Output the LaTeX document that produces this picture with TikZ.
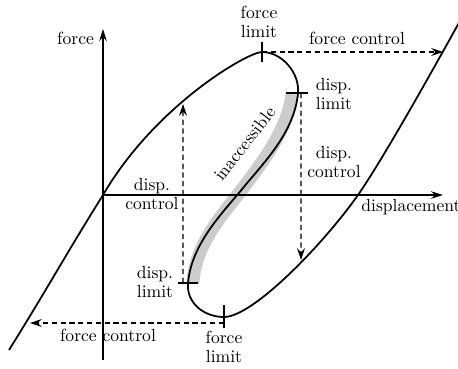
\documentclass[tikz,border=0pt]{standalone}
\usepackage{tikz}
\usetikzlibrary{arrows.meta,calc}
\tikzset{
  axis/.style={-{Stealth[length=2.4mm,width=1.5mm]}, line width=0.8pt},
  loop/.style={line width=1pt},
  band/.style={line width=0.26cm, draw=gray!40},
  tick/.style={line width=1.7pt},
  ctrl/.style={-{Stealth[length=2.4mm,width=1.6mm,inset=0.9mm]}, semithick, dash pattern=on 3pt off 2pt},
  lbl/.style={align=center, inner sep=1pt, font=\fontsize{10}{11}\selectfont}
}
\begin{document}
\begin{tikzpicture}
  \useasboundingbox (-2.06,-3.46) rectangle (7.10,3.90);
  % points on the loop
  \coordinate (A)  at (-1.88,-3.10);
  \coordinate (O)  at (0,0);
  \coordinate (T1) at (3.18,2.86);
  \coordinate (D1) at (3.90,2.04);
  \coordinate (M)  at (2.80,0.14);
  \coordinate (D2) at (1.70,-1.76);
  \coordinate (T2) at (2.42,-2.44);
  \coordinate (X)  at (5.10,0);
  \coordinate (E)  at (7.25,3.68);
  % ends of the control arrows
  \coordinate (fcR) at (6.80,2.86);
  \coordinate (fcL) at (-1.46,-2.56);
  \coordinate (dcR) at (3.96,-1.30);
  \coordinate (dcL) at (1.60,1.82);
  % inaccessible branch
  \draw[band] (3.78,2.02) .. controls (3.70,1.30) and (3.16,0.62) .. (2.80,0.14)
              .. controls (2.44,-0.34) and (1.84,-0.96) .. (1.80,-1.76);
  % axes
  \draw[axis] (0,-3.30) -- (0,3.32);
  \draw[axis] (O) -- (6.80,0);
  \node[lbl, anchor=east] (lforce) at (-0.14,3.14) {force};
  \node[lbl, anchor=west, inner sep=0pt] (ldisp) at (5.16,-0.24) {displacement};
  % response curve
  \draw[loop] (A) to[out=58,in=238] (O)
    .. controls (1.05,1.80) and (2.90,2.86) .. (T1)
    .. controls (3.58,2.86) and (3.935,2.44) .. (D1)
    .. controls (3.83,1.24) and (3.18,0.61) .. (M)
    .. controls (2.42,-0.33) and (1.77,-0.96) .. (D2)
    .. controls (1.665,-2.16) and (2.02,-2.44) .. (T2)
    .. controls (3.0,-2.44) and (4.41,-0.98) .. (X)
    .. controls (5.67,0.82) and (6.86,2.98) .. (E);
  % limits
  \draw[tick] ([yshift=-0.2cm]T1) -- ([yshift=0.2cm]T1);
  \draw[tick] ([xshift=-0.24cm]D1) -- ([xshift=0.2cm]D1);
  \draw[tick] ([xshift=-0.2cm]D2) -- ([xshift=0.2cm]D2);
  \draw[tick] ([yshift=-0.22cm]T2) -- ([yshift=0.24cm]T2);
  % control paths
  \draw[ctrl] (T1) -- (fcR);
  \draw[ctrl] ([yshift=-0.12cm]T2) -- (fcL);
  \draw[ctrl] ([xshift=0.06cm]D1) -- (dcR);
  \draw[ctrl] ([xshift=-0.1cm]D2) -- (dcL);
  % labels
  \node[lbl] (lfl1) at (3.12,3.46) {force\\limit};
  \node[lbl] (lfc1) at (5.08,3.13) {force control};
  \node[lbl] (ldl1) at (4.62,2.02) {disp.\\limit};
  \node[lbl] (ldc1) at (4.62,0.66) {disp.\\control};
  \node[lbl] (ldc2) at (0.98,0.02) {disp.\\control};
  \node[lbl] (ldl2) at (1.04,-1.74) {disp.\\limit};
  \node[lbl] (lfc2) at (0.10,-2.80) {force control};
  \node[lbl] (lfl2) at (2.42,-3.04) {force\\limit};
  \node[lbl, rotate=52] (linacc) at (2.83,1.03) {inaccessible};
\end{tikzpicture}
\end{document}
